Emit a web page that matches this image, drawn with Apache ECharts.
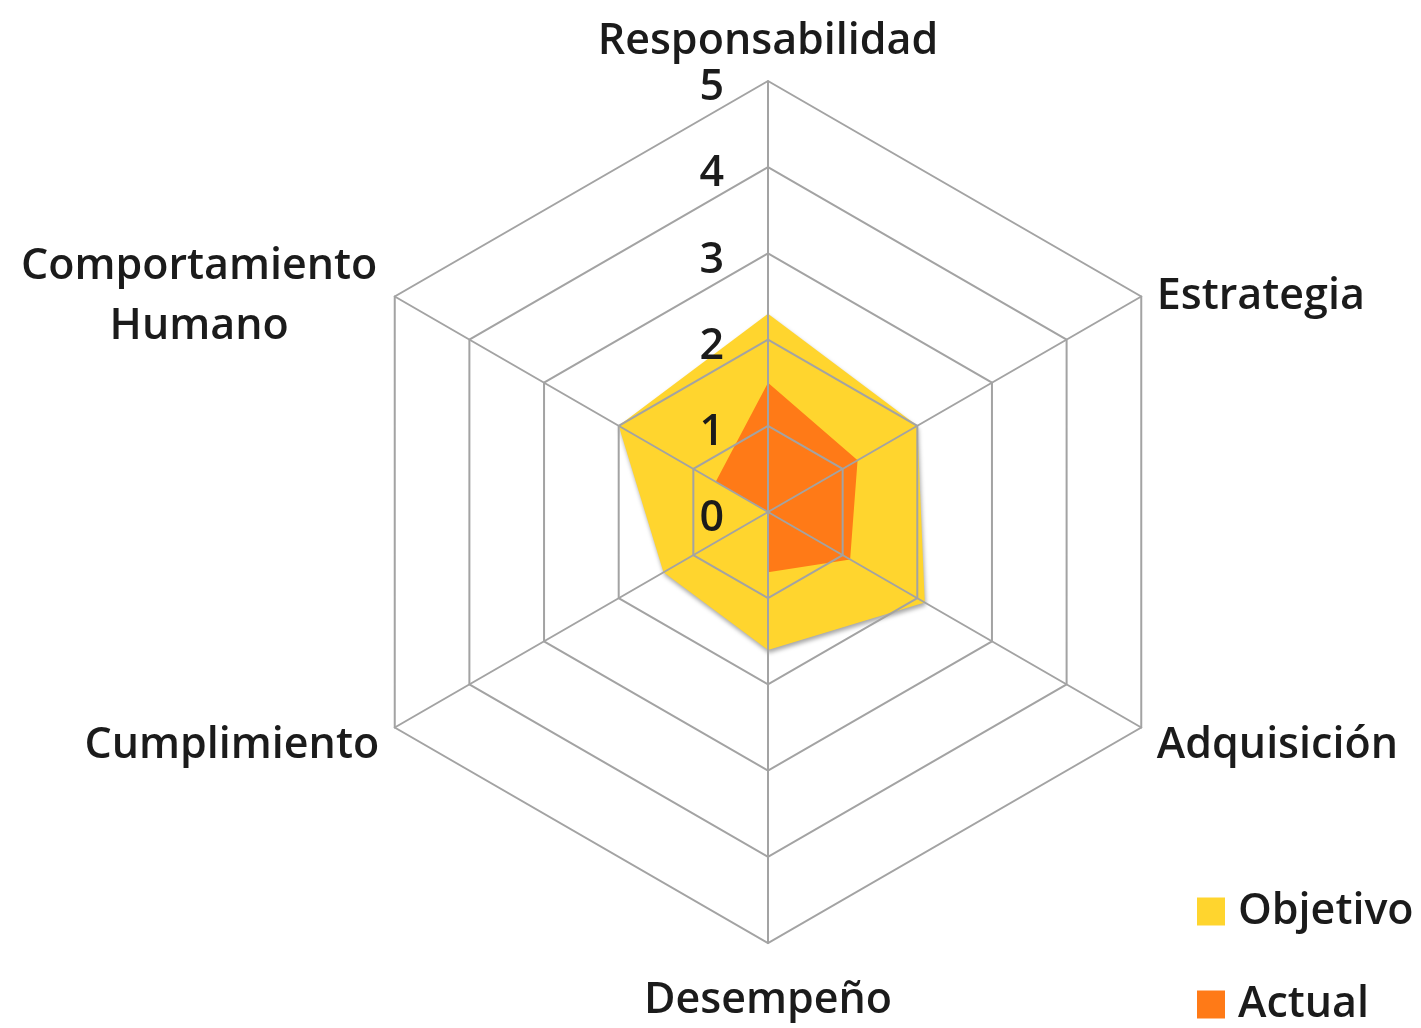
<!DOCTYPE html>
<html>
<head>
<meta charset="utf-8">
<title>Radar</title>
<script src="https://cdn.jsdelivr.net/npm/echarts@6/dist/echarts.min.js"></script>
<style>
	html, body { margin: 0; padding: 0; background: #ffffff; }
	#chart { width: 1421px; height: 1028px; }
</style>
</head>
<body>
<div id="chart"></div>
<script>
//Chart data, clockwise from the top
let categories = ['Responsabilidad', 'Estrategia', 'Adquisición', 'Desempeño', 'Cumplimiento', 'Comportamiento\nHumano'];
let objetivo = [2.3, 2.0, 2.1, 1.6, 1.4, 2.0];
let actual = [1.5, 1.2, 1.1, 0.7, 0, 0.7];
let seriesNames = ['Objetivo', 'Actual'];
let scaleMax = 5;

let font = '"Open Sans", sans-serif';
let textColor = '#1b1b1b';
let fontSize = 43;

//Radar runs counter-clockwise, so keep the first axis and reverse the rest
function clockwise(arr) {
	return [arr[0]].concat(arr.slice(1).reverse());
}

//Build indicators, only the first axis shows its tick labels
let indicators = [];
let orderedNames = clockwise(categories);
for (let i = 0; i < orderedNames.length; i++) {
	let ind = { name: orderedNames[i], min: 0, max: scaleMax };
	if (i == 0) {
		ind.axisLabel = { show: true };
	}
	indicators.push(ind);
}

function nameFormatter(name) {
	if (name.indexOf('\n') >= 0) {
		let parts = name.split('\n');
		return parts.map(function (p) { return '{wide|' + p + '}'; }).join('\n');
	}
	return name;
}

let chart = echarts.init(document.getElementById('chart'));
chart.setOption({
	backgroundColor: '#ffffff',
	animation: false,
	legend: {
		orient: 'vertical',
		left: 1197,
		top: 890,
		padding: 0,
		icon: 'rect',
		itemWidth: 28,
		itemHeight: 28,
		itemGap: 50,
		textStyle: { fontFamily: font, fontSize: fontSize, fontWeight: 600, color: textColor, lineHeight: 40, padding: [0, 0, 0, 8] },
		data: seriesNames
	},
	radar: {
		z: 3,
		center: [768, 512],
		radius: 431,
		startAngle: 90,
		shape: 'polygon',
		splitNumber: 5,
		indicator: indicators,
		nameGap: 18,
		axisName: {
			color: textColor,
			fontFamily: font,
			fontSize: fontSize,
			fontWeight: 600,
			padding: [18, 0, 0, 0],
			formatter: nameFormatter,
			rich: {
				wide: { fontFamily: font, fontSize: fontSize, fontWeight: 600, color: textColor, width: 360, align: 'center', lineHeight: 60 }
			}
		},
		axisLine: { lineStyle: { color: '#a3a3a3', width: 2 } },
		splitLine: { lineStyle: { color: '#a3a3a3', width: 2 } },
		splitArea: { show: false },
		axisTick: { show: false },
		axisLabel: {
			show: false,
			color: textColor,
			fontFamily: font,
			fontSize: fontSize,
			fontWeight: 600,
			margin: 44,
			formatter: '{v|{value}}',
			rich: {
				v: { fontFamily: font, fontSize: fontSize, fontWeight: 600, color: textColor, padding: [14, 0, 0, 0] }
			}
		}
	},
	series: [{
		type: 'radar',
		symbol: 'none',
		data: [
			{
				name: seriesNames[0],
				value: clockwise(objetivo),
				lineStyle: { width: 0, color: '#ffd52e' },
				itemStyle: { color: '#ffd52e' },
				areaStyle: {
					color: '#ffd52e',
					opacity: 1,
					shadowColor: 'rgba(0, 0, 0, 0.35)',
					shadowBlur: 4,
					shadowOffsetX: 1,
					shadowOffsetY: 3
				}
			},
			{
				name: seriesNames[1],
				value: clockwise(actual),
				lineStyle: { width: 0, color: '#ff7a17' },
				itemStyle: { color: '#ff7a17' },
				areaStyle: { color: '#ff7a17', opacity: 1 }
			}
		]
	}]
});
</script>
</body>
</html>
